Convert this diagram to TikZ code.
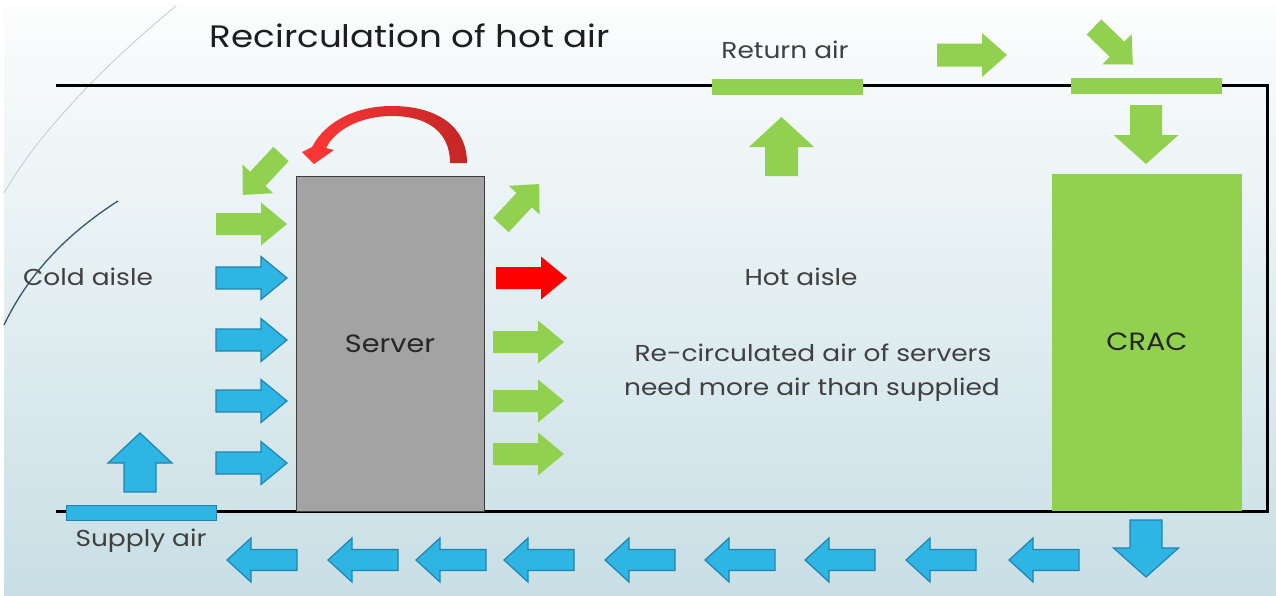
\documentclass[tikz,border=0pt]{standalone}
\usepackage{fontspec}
\setmainfont{Poppins}
\newfontfamily\gfont[FakeStretch=1.15]{Poppins}
\definecolor{grn}{RGB}{146,208,80}
\definecolor{blu}{RGB}{47,181,228}
\definecolor{bluD}{RGB}{31,133,175}
\definecolor{txt}{RGB}{64,64,64}
\definecolor{ttl}{RGB}{30,30,30}
\definecolor{bgTop}{RGB}{252,253,253}
\definecolor{bgBot}{RGB}{200,223,229}
\definecolor{srv}{RGB}{163,163,163}
\definecolor{redL}{RGB}{255,55,55}
\definecolor{redD}{RGB}{195,38,38}
\newcommand\blk[7]{\begin{scope}[shift={(#2)},rotate=#3]\path[#1] (0,{-#6/2}) -- ({#4-#7},{-#6/2}) -- ({#4-#7},{-#5/2}) -- (#4,0) -- ({#4-#7},{#5/2}) -- ({#4-#7},{#6/2}) -- (0,{#6/2}) -- cycle;\end{scope}}
\tikzset{
  garr/.style={fill=grn},
  barr/.style={fill=blu,draw=bluD,line width=1.2pt},
  rarr/.style={fill=red},
  frame/.style={line width=3pt,black},
  lbl/.style={text=txt,font=\gfont\fontsize{23}{27}\selectfont,inner sep=0pt},
}
\begin{document}
\begin{tikzpicture}[x=1pt,y=-1pt]
\useasboundingbox (0,0) rectangle (1276,595);
\fill[white] (0,0) rectangle (1276,595);
\shade[top color=bgTop,bottom color=bgBot] (4,4) rectangle (1276,595);
% decorative arcs
\draw[line width=0.8pt,color={rgb,255:red,195;green,202;blue,208}] (176,6) .. controls (110,60) and (40,130) .. (4,193);
\draw[line width=1.3pt,color={rgb,255:red,55;green,85;blue,105}] (118,201) .. controls (65,235) and (28,275) .. (4,325);
% frame
\draw[frame,line join=miter] (56,85) -- (1267,85) -- (1267,511) -- (56,511);
% title
\node[text=ttl,font=\gfont\fontsize{31}{36}\selectfont,inner sep=0pt] (title) at (410,36) {Recirculation of hot air};
% server and CRAC
\node[draw={rgb,255:red,60;green,60;blue,60},line width=0.8pt,fill=srv,minimum width=188pt,minimum height=335pt,inner sep=0pt] (server) at (390,343.5) {};
\node[lbl,text=black!85,font=\gfont\fontsize{25}{29}\selectfont] (servert) at (390,344) {Server};
\node[fill=grn,minimum width=190pt,minimum height=337pt,inner sep=0pt] (crac) at (1147,342.5) {};
\node[lbl,text=black!85,font=\gfont\fontsize{25}{29}\selectfont] (cract) at (1147,342) {CRAC};
% vents
\node[fill=grn,minimum width=151pt,minimum height=16pt,inner sep=0pt] (vent1) at (787.5,87) {};
\node[fill=grn,minimum width=151pt,minimum height=16pt,inner sep=0pt] (vent2) at (1146.5,86) {};
\node[fill=blu,draw=bluD,line width=1pt,minimum width=150pt,minimum height=15pt,inner sep=0pt] (supply) at (141,512.5) {};
% labels
\node[lbl] (ret) at (785,50) {Return air};
\node[lbl] (cold) at (88,277) {Cold aisle};
\node[lbl] (hot) at (801,277) {Hot aisle};
\node[lbl] (re1) at (813,353) {Re-circulated air of servers};
\node[lbl] (re2) at (812,390) {need more air than supplied};
\node[lbl] (sup) at (141,541) {Supply air};
% red curved arrow
\shade[left color=redL,right color=redD,shading angle=90]
 (450,163) .. controls (450,130) and (425,116) .. (392,116)
 .. controls (360,116) and (335,130) .. (326,148)
 -- (334,150) -- (314,164) -- (302,152) -- (312,147)
 .. controls (325,122) and (355,106) .. (392,106)
 .. controls (435,106) and (467,125) .. (467,163) -- cycle;
% left side arrows
\blk{garr}{216,224}{0}{71}{43}{22}{26}
\blk{barr}{216,278}{0}{71}{43}{22}{26}
\blk{barr}{216,340}{0}{71}{43}{22}{26}
\blk{barr}{216,401}{0}{71}{43}{22}{26}
\blk{barr}{216,463}{0}{71}{43}{22}{26}
\blk{garr}{281,154}{227}{56}{42}{21}{22}
% right side arrows
\blk{garr}{501,225}{47}{56}{42}{21}{22}
\blk{rarr}{496,278}{0}{71}{43}{22}{26}
\blk{garr}{493,342}{0}{71}{43}{22}{26}
\blk{garr}{493,401}{0}{71}{43}{22}{26}
\blk{garr}{493,454}{0}{71}{43}{22}{26}
% top arrows
\blk{garr}{781.5,176}{90}{59}{65}{33}{30}
\blk{garr}{937,55}{0}{70}{44}{23}{25}
\blk{garr}{1094,27}{-44}{54}{42}{21}{22}
\blk{garr}{1146,105}{-90}{59}{65}{32}{29}
% supply and bottom arrows
\blk{barr}{140,492}{90}{59}{64}{32}{30}
\blk{barr}{1146,520}{-90}{57}{65}{32}{29}
\foreach \xx in {227,328,416,504,605,705,805,906,1009}{
  \blk{barr}{\xx+70,560}{180}{70}{44}{21}{24}
}
\end{tikzpicture}
\end{document}
